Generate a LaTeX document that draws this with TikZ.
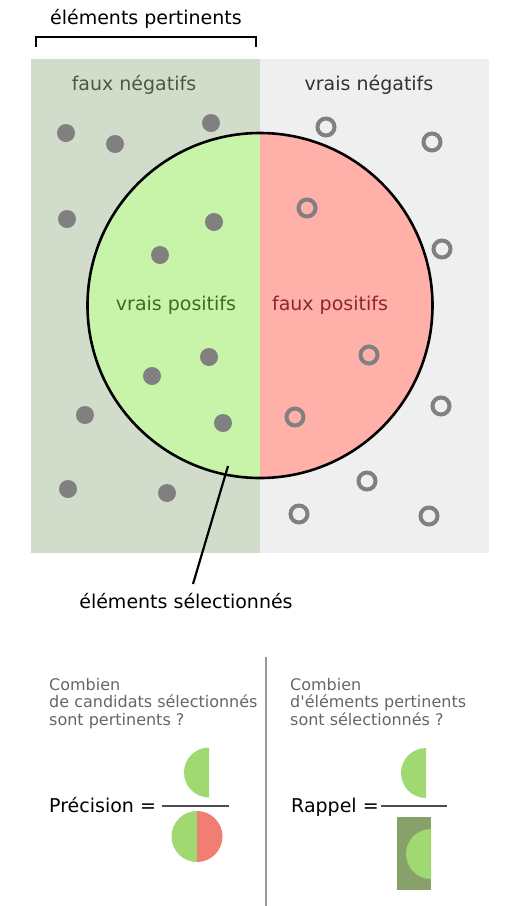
\documentclass[tikz,border=0pt]{standalone}
\usepackage{fontspec}
\setmainfont{DejaVu Sans}
\definecolor{fnbg}{HTML}{D1DCCB}
\definecolor{vnbg}{HTML}{EFEFEF}
\definecolor{vpfill}{HTML}{C8F4AA}
\definecolor{fpfill}{HTML}{FFB0A8}
\definecolor{dotgray}{HTML}{808080}
\definecolor{qgray}{HTML}{666666}
\definecolor{vptext}{HTML}{3F6A1F}
\definecolor{fptext}{HTML}{8A2A2A}
\definecolor{fntext}{HTML}{4A5A40}
\definecolor{vntext}{HTML}{333333}
\definecolor{lgreen}{HTML}{A0D971}
\definecolor{lred}{HTML}{F27D72}
\definecolor{dgreen}{HTML}{88A06A}
\begin{document}
\begin{tikzpicture}[x=1pt,y=-1pt,
  big/.style={font=\fontsize{19}{22}\selectfont, inner sep=0pt, anchor=base},
  quest/.style={font=\fontsize{16}{17.5}\selectfont, text=qgray, inner sep=0pt, anchor=north west, align=left},
  fdot/.style={fill=dotgray},
  odot/.style={draw=dotgray, line width=4pt}]
\useasboundingbox (0,0) rectangle (515,906);
% backgrounds
\fill[fnbg] (31,59) rectangle (260,553);
\fill[vnbg] (260,59) rectangle (489,553);
% circle halves
\fill[vpfill] (260,133) arc[start angle=270, end angle=90, radius=172.5] -- cycle;
\fill[fpfill] (260,133) arc[start angle=270, end angle=450, radius=172.5] -- cycle;
\draw[line width=2.6pt] (260,305.5) circle[radius=172.5];
% bracket
\draw[line width=2pt] (36,47) -- (36,37) -- (256,37) -- (256,47);
\node[big] (pert) at (146,24) {éléments pertinents};
% region labels
\node[big, text=fntext] (fn) at (134,90.5) {faux négatifs};
\node[big, text=vntext] (vn) at (369,90.5) {vrais négatifs};
\node[big, text=vptext] (vp) at (176,310.5) {vrais positifs};
\node[big, text=fptext] (fp) at (330,310.5) {faux positifs};
% filled dots
\foreach \p in {(66,133),(115,144),(211,123),(67,219),(214,222),(160,255),(209,357),(152,376),(85,415),(223,423),(68,489),(167,493)}
  \fill[fdot] \p circle[radius=9];
% open circles
\foreach \p in {(326,127),(432,142),(307,208),(442,249),(369,355),(441,406),(295,417),(367,481),(299,514),(429,516)}
  \draw[odot] \p circle[radius=8.5];
% pointer
\node[big] (sel) at (186,608) {éléments sélectionnés};
\coordinate (ptA) at (228,466);
\coordinate (ptB) at (193,584);
\draw[line width=2.2pt] (ptA) -- (ptB);
% separator
\draw[line width=2pt, color=dotgray!80] (266,657) -- (266,906);
% precision
\node[quest] (q1) at (49,678) {Combien\\de candidats sélectionnés\\sont pertinents ?};
\node[big] (prec) at (49,812) [anchor=base west] {Précision =};
\draw[line width=2pt, color=black!70] (162,806) -- (229,806);
\fill[lgreen] (209,747.5) arc[start angle=270, end angle=90, radius=25] -- cycle;
\fill[lgreen] (197,811) arc[start angle=270, end angle=90, radius=25.5] -- cycle;
\fill[lred] (197,811) arc[start angle=270, end angle=450, radius=25.5] -- cycle;
% recall
\node[quest] (q2) at (290,678) {Combien\\d\textquotesingle éléments pertinents\\sont sélectionnés ?};
\node[big] (rapp) at (291,812) [anchor=base west] {Rappel =};
\draw[line width=2pt, color=black!70] (381,806) -- (447,806);
\fill[lgreen] (426,748) arc[start angle=270, end angle=90, radius=25] -- cycle;
\fill[dgreen] (397,817) rectangle (431,890);
\fill[lgreen] (431,829) arc[start angle=270, end angle=90, radius=25] -- cycle;
\end{tikzpicture}
\end{document}
